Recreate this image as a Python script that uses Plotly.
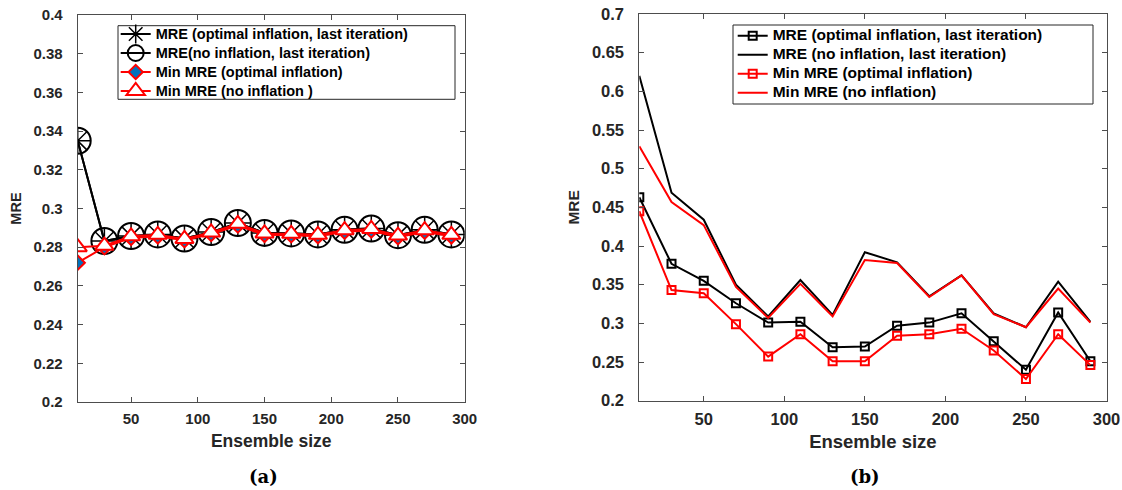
import plotly.graph_objects as go

# ---- data ----
ens = [10, 30, 50, 70, 90, 110, 130, 150, 170, 190, 210, 230, 250, 270, 290]

# panel (a)
a_opt_last = [0.335, 0.2832, 0.2858, 0.2866, 0.2845, 0.2878, 0.2925, 0.2874, 0.2871, 0.2866, 0.2890, 0.2896, 0.2862, 0.2890, 0.2866]
a_noinf_last = [0.335, 0.2832, 0.2858, 0.2866, 0.2845, 0.2878, 0.2925, 0.2874, 0.2871, 0.2866, 0.2890, 0.2896, 0.2862, 0.2890, 0.2866]
a_min_opt = [0.272, 0.2800, 0.2848, 0.2856, 0.2836, 0.2868, 0.2912, 0.2864, 0.2862, 0.2857, 0.2880, 0.2886, 0.2852, 0.2880, 0.2856]
a_min_noinf = [0.280, 0.2808, 0.2856, 0.2864, 0.2843, 0.2876, 0.2921, 0.2871, 0.2869, 0.2864, 0.2888, 0.2894, 0.2860, 0.2888, 0.2864]

# panel (b)
b_opt_last = [0.463, 0.377, 0.355, 0.326, 0.301, 0.302, 0.269, 0.270, 0.297, 0.301, 0.313, 0.277, 0.240, 0.314, 0.251]
b_noinf_last = [0.620, 0.469, 0.434, 0.350, 0.309, 0.356, 0.311, 0.392, 0.379, 0.335, 0.362, 0.313, 0.295, 0.354, 0.302]
b_min_opt = [0.445, 0.343, 0.339, 0.299, 0.257, 0.286, 0.251, 0.251, 0.284, 0.286, 0.293, 0.265, 0.228, 0.286, 0.246]
b_min_noinf = [0.529, 0.457, 0.427, 0.347, 0.307, 0.351, 0.309, 0.382, 0.378, 0.334, 0.362, 0.312, 0.295, 0.345, 0.301]

x_ticks = [50, 100, 150, 200, 250, 300]
ya_ticks = [0.2, 0.22, 0.24, 0.26, 0.28, 0.3, 0.32, 0.34, 0.36, 0.38, 0.4]
ya_labels = ["0.2", "0.22", "0.24", "0.26", "0.28", "0.3", "0.32", "0.34", "0.36", "0.38", "0.4"]
yb_ticks = [0.2, 0.25, 0.3, 0.35, 0.4, 0.45, 0.5, 0.55, 0.6, 0.65, 0.7]
yb_labels = ["0.2", "0.25", "0.3", "0.35", "0.4", "0.45", "0.5", "0.55", "0.6", "0.65", "0.7"]

names_a = ["MRE (optimal inflation, last iteration)", "MRE(no inflation, last iteration)",
           "Min MRE (optimal inflation)", "Min MRE (no inflation )"]
names_b = ["MRE (optimal inflation, last iteration)", "MRE (no inflation, last iteration)",
           "Min MRE (optimal inflation)", "Min MRE (no inflation)"]

W, H = 1122, 490
FONT = "Liberation Sans"
TXT = "#262626"
AX = "#4d4d4d"
RED = "#ff0000"
BLUE = "#0072bd"


def lname(t, px):
    return '<span style="font-size:%spx">%s</span>' % (px, t)


fig = go.Figure()

# ---- panel (a) ----
fig.add_trace(go.Scatter(x=ens, y=a_opt_last, mode="lines+markers", name=lname(names_a[0], 14.5),
                         line=dict(color="black", width=2),
                         marker=dict(symbol="asterisk-open", size=22, color="black", line=dict(color="black", width=1.5)),
                         xaxis="x", yaxis="y", legend="legend"))
fig.add_trace(go.Scatter(x=ens, y=a_noinf_last, mode="lines+markers", name=lname(names_a[1], 14.5),
                         line=dict(color="black", width=2),
                         marker=dict(symbol="circle-open", size=26, color="black", line=dict(color="black", width=2)),
                         xaxis="x", yaxis="y", legend="legend"))
fig.add_trace(go.Scatter(x=ens, y=a_min_opt, mode="lines+markers", name=lname(names_a[2], 14.5),
                         line=dict(color=RED, width=2),
                         marker=dict(symbol="diamond", size=11, color=BLUE, line=dict(color=RED, width=2)),
                         xaxis="x", yaxis="y", legend="legend"))
fig.add_trace(go.Scatter(x=ens, y=a_min_noinf, mode="lines+markers", name=lname(names_a[3], 14.5),
                         line=dict(color=RED, width=2),
                         marker=dict(symbol="triangle-up", size=16, color="white", line=dict(color=RED, width=2)),
                         xaxis="x", yaxis="y", legend="legend"))

# ---- panel (b) ----
fig.add_trace(go.Scatter(x=ens, y=b_opt_last, mode="lines+markers", name=lname(names_b[0], 15.5),
                         line=dict(color="black", width=2),
                         marker=dict(symbol="square-open", size=8, color="black", line=dict(color="black", width=2)),
                         xaxis="x2", yaxis="y2", legend="legend2"))
fig.add_trace(go.Scatter(x=ens, y=b_noinf_last, mode="lines", name=lname(names_b[1], 15.5),
                         line=dict(color="black", width=2),
                         xaxis="x2", yaxis="y2", legend="legend2"))
fig.add_trace(go.Scatter(x=ens, y=b_min_opt, mode="lines+markers", name=lname(names_b[2], 15.5),
                         line=dict(color=RED, width=2),
                         marker=dict(symbol="square-open", size=8, color=RED, line=dict(color=RED, width=2)),
                         xaxis="x2", yaxis="y2", legend="legend2"))
fig.add_trace(go.Scatter(x=ens, y=b_min_noinf, mode="lines", name=lname(names_b[3], 15.5),
                         line=dict(color=RED, width=2),
                         xaxis="x2", yaxis="y2", legend="legend2"))


def xaxis(domain, anchor, tsize, titlesize):
    return dict(domain=domain, anchor=anchor, range=[10, 300], tickvals=x_ticks,
                ticktext=[str(v) for v in x_ticks], ticks="inside", ticklen=5, tickcolor=AX,
                showline=True, linecolor=AX, linewidth=1, mirror="ticks", showgrid=False,
                zeroline=False, automargin=False,
                tickfont=dict(family=FONT, size=tsize, color=TXT, weight="bold"), ticklabelstandoff=3,
                title=dict(text="Ensemble size", font=dict(family=FONT, size=titlesize, color=TXT, weight="bold"),
                           standoff=8))


def yaxis(domain, anchor, rng, tv, tt, tsize, titlesize):
    return dict(domain=domain, anchor=anchor, range=rng, tickvals=tv, ticktext=tt,
                ticks="inside", ticklen=5, tickcolor=AX,
                showline=True, linecolor=AX, linewidth=1, mirror="ticks", showgrid=False,
                zeroline=False, automargin=False,
                tickfont=dict(family=FONT, size=tsize, color=TXT, weight="bold"), ticklabelstandoff=11,
                title=dict(text="MRE", font=dict(family=FONT, size=titlesize, color=TXT, weight="bold"),
                           standoff=8))


# legend frames (MATLAB-style boxes, wider than the text)
frame = dict(type="rect", xref="paper", yref="paper", layer="below",
             line=dict(color="#262626", width=1), fillcolor="white")

fig.update_layout(
    width=W, height=H,
    margin=dict(l=0, r=0, t=0, b=0, autoexpand=False),
    paper_bgcolor="white", plot_bgcolor="white",
    xaxis=xaxis([77.7 / W, 464.7 / W], "y", 15, 17.5),
    yaxis=yaxis([1 - 402 / H, 1 - 15 / H], "x", [0.2, 0.4], ya_ticks, ya_labels, 15, 14.5),
    xaxis2=xaxis([639.3 / W, 1106.5 / W], "y2", 16.5, 18.5),
    yaxis2=yaxis([1 - 400.7 / H, 1 - 14 / H], "x2", [0.2, 0.7], yb_ticks, yb_labels, 16.5, 15.5),
    legend=dict(x=115.7 / W, y=1 - 19.5 / H, xanchor="left", yanchor="top", bgcolor="rgba(0,0,0,0)",
                borderwidth=0,
                font=dict(family=FONT, size=12, color="black", weight="bold"),
                itemwidth=30, tracegroupgap=0),
    legend2=dict(x=732.7 / W, y=1 - 21.2 / H, xanchor="left", yanchor="top", bgcolor="rgba(0,0,0,0)",
                 borderwidth=0,
                 font=dict(family=FONT, size=12, color="black", weight="bold"),
                 itemwidth=30, tracegroupgap=0),
    showlegend=True,
    shapes=[
        dict(frame, x0=118 / W, x1=455 / W, y0=1 - 99.3 / H, y1=1 - 25.7 / H),
        dict(frame, x0=733 / W, x1=1093 / W, y0=1 - 104 / H, y1=1 - 25 / H),
    ],
    annotations=[
        dict(text="<b>(a)</b>", x=263 / W, y=1 - 476.7 / H, xref="paper", yref="paper",
             xanchor="center", yanchor="middle", showarrow=False,
             font=dict(family="DejaVu Serif", size=18, color="black")),
        dict(text="<b>(b)</b>", x=865 / W, y=1 - 476.7 / H, xref="paper", yref="paper",
             xanchor="center", yanchor="middle", showarrow=False,
             font=dict(family="DejaVu Serif", size=18, color="black")),
    ],
)

fig.write_html("out.html")
